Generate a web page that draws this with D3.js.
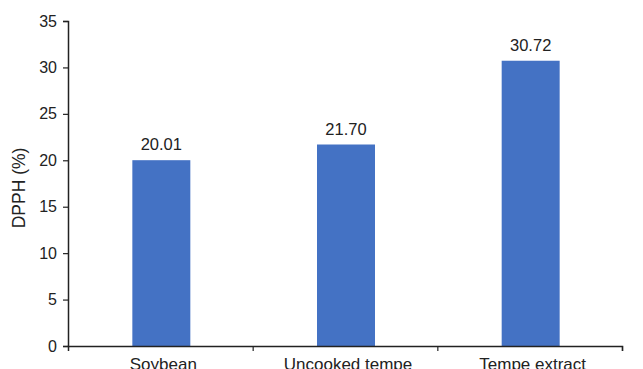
<!DOCTYPE html>
<html>
<head>
<meta charset="utf-8">
<script src="https://cdn.jsdelivr.net/npm/d3@7"></script>
<style>
body { margin: 0; background: #fff; }
text { font-family: Arial, "Liberation Sans", sans-serif; fill: #222; }
</style>
</head>
<body>
<div id="chart"></div>
<script>
var SVGWidth = 643;
var SVGHeight = 369;

var categories = ["Soybean", "Uncooked tempe", "Tempe extract"];
var values = [20.01, 21.70, 30.72];
var valueLabels = ["20.01", "21.70", "30.72"];
var yTicks = [0, 5, 10, 15, 20, 25, 30, 35];

var svg = d3.select("#chart")
    .append("svg")
    .attr("width", SVGWidth)
    .attr("height", SVGHeight);

var x = d3.scaleBand()
    .domain(categories)
    .range([69, 623])
    .paddingInner(0.686)
    .paddingOuter(0.343);

var y = d3.scaleLinear()
    .domain([0, 35])
    .range([346, 21]);

// bars
svg.selectAll("rect.bar")
    .data(values)
    .enter()
    .append("rect")
    .attr("class", "bar")
    .attr("x", function(d, i) { return x(categories[i]); })
    .attr("y", function(d) { return y(d); })
    .attr("width", x.bandwidth())
    .attr("height", function(d) { return y(0) - y(d); })
    .attr("fill", "#4472c4");

// value labels
svg.selectAll("text.val")
    .data(values)
    .enter()
    .append("text")
    .attr("class", "val")
    .attr("x", function(d, i) { return x(categories[i]) + x.bandwidth() / 2; })
    .attr("y", function(d) { return y(d) - 10; })
    .attr("text-anchor", "middle")
    .style("font-size", "16.5px")
    .text(function(d, i) { return valueLabels[i]; });

// left axis
var yAxis = svg.append("g")
    .attr("transform", "translate(68,0)")
    .call(d3.axisLeft(y).tickValues(yTicks).tickSize(5).tickPadding(6));
yAxis.select(".domain").attr("stroke", "#222").attr("stroke-width", 1.5);
yAxis.selectAll(".tick line").attr("stroke", "#222").attr("stroke-width", 1.2);
yAxis.selectAll(".tick text").style("font-size", "16px").attr("fill", "#222");

// bottom axis: ticks at category boundaries
var xb = d3.scaleLinear().domain([0, categories.length]).range([68, 622]);
var xAxis = svg.append("g")
    .attr("transform", "translate(0,346)")
    .call(d3.axisBottom(xb).tickValues([1, 2, 3]).tickSize(5).tickFormat(""));
xAxis.select(".domain").attr("stroke", "#222").attr("stroke-width", 1.5);
xAxis.selectAll(".tick line").attr("stroke", "#222").attr("stroke-width", 1.2);

// category labels (cut at the bottom edge, as in the original)
svg.selectAll("text.cat")
    .data(categories)
    .enter()
    .append("text")
    .attr("class", "cat")
    .attr("x", function(d) { return x(d) + x.bandwidth() / 2 + 2; })
    .attr("y", 370)
    .attr("text-anchor", "middle")
    .style("font-size", "17px")
    .text(function(d) { return d; });

// y axis title
svg.append("text")
    .attr("transform", "translate(25,188) rotate(-90)")
    .attr("text-anchor", "middle")
    .style("font-size", "17.5px")
    .text("DPPH (%)");
</script>
</body>
</html>
